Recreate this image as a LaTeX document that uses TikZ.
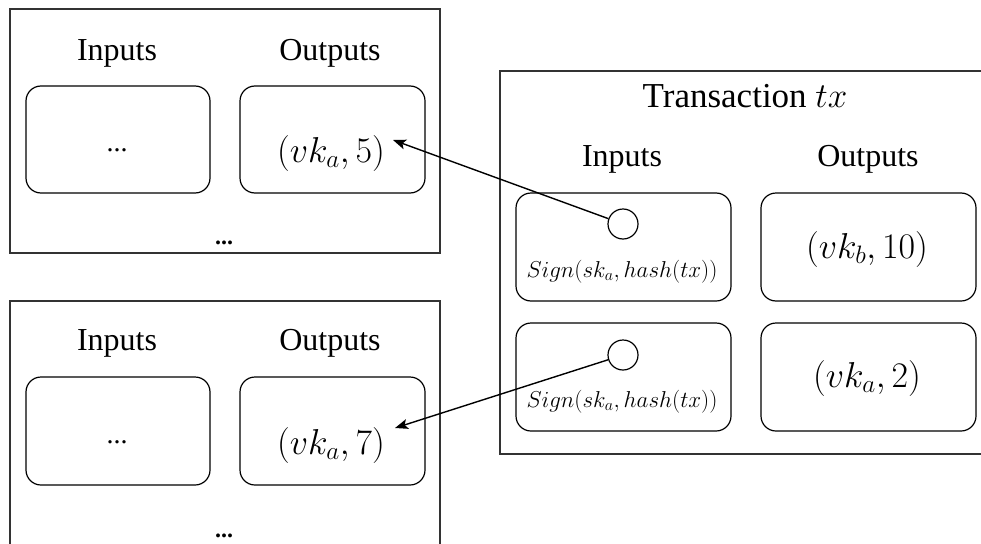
\RequirePackage{fix-cm}
\documentclass[tikz,border=0pt]{standalone}
\usepackage[no-math]{fontspec}
\setmainfont{Liberation Serif}
\usetikzlibrary{arrows.meta}
\definecolor{framegray}{HTML}{333333}
\tikzset{
  frame/.style={draw=framegray, line width=1.5pt},
  cell/.style={draw=black, line width=1.2pt, rounded corners=15pt, inner sep=0pt},
  head/.style={anchor=base, font=\fontsize{32}{38}\selectfont},
  title/.style={anchor=base, font=\fontsize{35}{40}\selectfont},
  value/.style={anchor=base, font=\fontsize{36}{42}\selectfont},
  sig/.style={anchor=base, font=\fontsize{23}{27}\selectfont},
  dots/.style={anchor=base, font=\fontsize{28}{32}\selectfont},
  bdots/.style={anchor=base, font=\fontsize{24}{28}\selectfont\bfseries},
  port/.style={circle, draw=black, line width=1.2pt, minimum size=30pt, inner sep=0pt, fill=white},
  link/.style={draw=black, line width=1.4pt, -{Stealth[length=13pt, width=10pt, inset=3pt]}}
}
\begin{document}
\begin{tikzpicture}[x=1pt, y=-1pt]
  \useasboundingbox (0,0) rectangle (981,543);
  \clip (0,0) rectangle (981,543);

  % ---- earlier transaction (top left) ----
  \draw[frame] (10,9) rectangle (440,253);
  \node[head] (ainl) at (117,60) {Inputs};
  \node[head] (aoutl) at (330,60) {Outputs};
  \node[cell, minimum width=184pt, minimum height=107pt] (ain) at (118,139.5) {};
  \node[cell, minimum width=185pt, minimum height=107pt] (aout) at (332.5,139.5) {};
  \node[dots] (ainv) at (117,151) {...};
  \node[value] (aval) at (331,162) {$(vk_a,5)$};
  \node[bdots] (amore) at (224,244) {...};

  % ---- earlier transaction (bottom left) ----
  \draw[frame] (10,301) rectangle (440,570);
  \node[head] (binl) at (117,350) {Inputs};
  \node[head] (boutl) at (330,350) {Outputs};
  \node[cell, minimum width=184pt, minimum height=108pt] (bin) at (118,431) {};
  \node[cell, minimum width=185pt, minimum height=108pt] (bout) at (332.5,431) {};
  \node[dots] (binv) at (117,443) {...};
  \node[value] (bval) at (331,454) {$(vk_a,7)$};
  \node[bdots] (bmore) at (224,537) {...};

  % ---- transaction tx (right) ----
  \draw[frame] (500,71) rectangle (1000,454);
  \node[title] (txt) at (745,107) {Transaction $tx$};
  \node[head] (tinl) at (622,166) {Inputs};
  \node[head] (toutl) at (868,166) {Outputs};
  \node[cell, minimum width=215pt, minimum height=108pt] (tin1) at (623.5,247) {};
  \node[cell, minimum width=215pt, minimum height=108pt] (tout1) at (868.5,247) {};
  \node[cell, minimum width=215pt, minimum height=108pt] (tin2) at (623.5,377) {};
  \node[cell, minimum width=215pt, minimum height=108pt] (tout2) at (868.5,377) {};
  \node[sig] (sig1) at (622,277) {$Sign(sk_a,hash(tx))$};
  \node[sig] (sig2) at (622,407) {$Sign(sk_a,hash(tx))$};
  \node[value] (vb) at (867,258) {$(vk_b,10)$};
  \node[value] (va) at (867,387) {$(vk_a,2)$};
  \node[port] (c1) at (623,224) {};
  \node[port] (c2) at (623,355) {};

  % ---- references from inputs to spent outputs ----
  \coordinate (t1) at (393,140);
  \coordinate (t2) at (395,428);
  \draw[link] (c1) -- (t1);
  \draw[link] (c2) -- (t2);
\end{tikzpicture}
\end{document}
